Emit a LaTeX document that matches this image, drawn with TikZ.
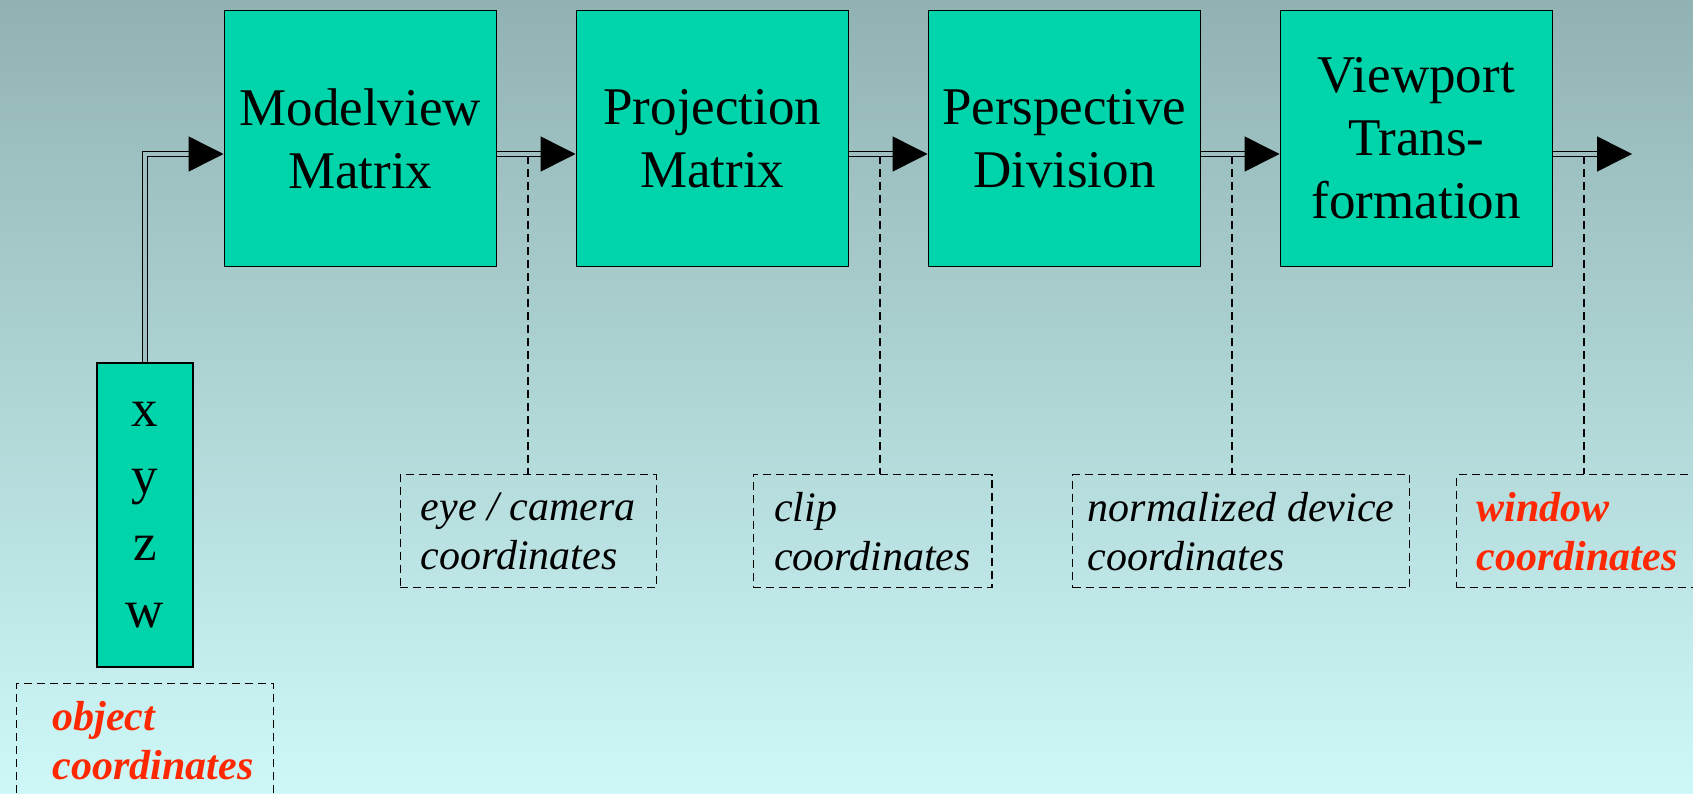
\documentclass[tikz,border=0pt]{standalone}
\usepackage{fontspec}
\setmainfont{Liberation Serif}
\usetikzlibrary{arrows.meta,calc}
\definecolor{bgtop}{RGB}{145,178,178}
\definecolor{bgbot}{RGB}{206,248,248}
\definecolor{boxfill}{RGB}{0,212,170}
\definecolor{redtxt}{RGB}{255,40,0}
\definecolor{gapcol}{RGB}{158,192,192}
\begin{document}
\begin{tikzpicture}[x=1pt,y=-1pt,
  stage/.style={draw=black,line width=1.6pt,fill=boxfill,minimum width=272pt,minimum height=256pt,
    anchor=north west,inner sep=0pt,align=center,font=\fontsize{53}{63}\selectfont},
  lab/.style={draw=black,line width=1.3pt,dash pattern=on 8pt off 5pt,anchor=north west,
    minimum height=113pt,inner sep=0pt,align=left,font=\fontsize{42}{49}\selectfont\itshape},
  redlab/.style={lab,text=redtxt,font=\fontsize{42}{49}\selectfont\bfseries\itshape},
  dbl/.style={draw=black,line width=1.5pt,double=gapcol,double distance=3.5pt,
    -{Triangle[length=35pt,width=35pt]}},
  dashline/.style={draw=black,line width=1.3pt,dash pattern=on 8pt off 5pt}]
\useasboundingbox (0,0) rectangle (1693,793);
\clip (0,0) rectangle (1693,793);
\shade[top color=bgtop,bottom color=bgbot] (0,0) rectangle (1693,793);

% stage boxes
\node[stage] (mv) at (223.5,9.7) {Modelview\\Matrix};
\node[stage] (pr) at (575.5,9.7) {Projection\\Matrix};
\node[stage] (pd) at (927.5,9.7) {Perspective\\Division};
\node[stage] (vp) at (1279.5,9.7) {Viewport\\Trans-\\formation};
\node[stage,minimum width=96pt,minimum height=304pt,font=\fontsize{53}{67}\selectfont] (obj) at (96,362) {x\\y\\z\\w};

% label boxes
\node[lab,minimum width=256pt] (eye) at (399.5,474) {eye / camera\\coordinates};
\node[lab,minimum width=238.6pt] (clip) at (752.6,474) {clip\\coordinates};
\node[lab,minimum width=337pt] (ndc) at (1072,474) {normalized device\\coordinates};
\node[redlab,minimum width=241pt] (win) at (1456,474) {window\\coordinates};
\node[redlab,minimum width=256.7pt] (objc) at (16,683) {\hspace*{16pt}object\\\hspace*{16pt}coordinates};

% arrows
\coordinate (ay) at (0,154);
\coordinate (out) at (1632,154);
\draw[dbl] (obj.north) |- (mv.west |- ay);
\draw[dbl] (mv.east |- ay) -- (pr.west |- ay);
\draw[dbl] (pr.east |- ay) -- (pd.west |- ay);
\draw[dbl] (pd.east |- ay) -- (vp.west |- ay);
\draw[dbl] (vp.east |- ay) -- (out);

% dashed leaders
\coordinate (d1) at (528,156);
\coordinate (d2) at (880,156);
\coordinate (d3) at (1232,156);
\coordinate (d4) at (1584,156);
\draw[dashline] (d1) -- (d1 |- eye.north);
\draw[dashline] (d2) -- (d2 |- clip.north);
\draw[dashline] (d3) -- (d3 |- ndc.north);
\draw[dashline] (d4) -- (d4 |- win.north);
\end{tikzpicture}
\end{document}
